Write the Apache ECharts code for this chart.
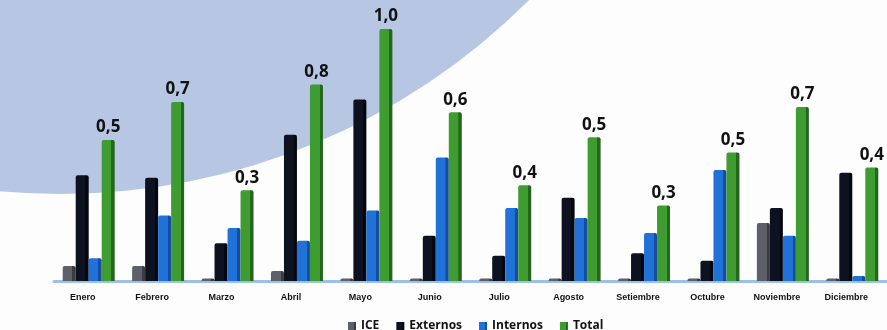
<!DOCTYPE html>
<html>
<head>
<meta charset="utf-8">
<script src="https://cdn.jsdelivr.net/npm/echarts@6/dist/echarts.min.js"></script>
<style>
  html, body { margin: 0; padding: 0; background: #fdfdfe; }
  #chart { width: 887px; height: 330px; }
</style>
</head>
<body>
<div id="chart"></div>
<script>
const months = ['Enero', 'Febrero', 'Marzo', 'Abril', 'Mayo', 'Junio', 'Julio', 'Agosto', 'Setiembre', 'Octubre', 'Noviembre', 'Diciembre']
const ice = [0.06, 0.06, 0.01, 0.04, 0.01, 0.01, 0.01, 0.01, 0.01, 0.01, 0.23, 0.01]
const externos = [0.42, 0.41, 0.15, 0.58, 0.72, 0.18, 0.10, 0.33, 0.11, 0.08, 0.29, 0.43]
const internos = [0.09, 0.26, 0.21, 0.16, 0.28, 0.49, 0.29, 0.25, 0.19, 0.44, 0.18, 0.02]
const total = [0.56, 0.71, 0.36, 0.78, 1.0, 0.67, 0.38, 0.57, 0.30, 0.51, 0.69, 0.45]
const totalLabels = ['0,5', '0,7', '0,3', '0,8', '1,0', '0,6', '0,4', '0,5', '0,3', '0,5', '0,7', '0,4']

const chart = echarts.init(document.getElementById('chart'))

// flat colour with a darker right side, to fake the 3D look
const shade = (main, dark) => new echarts.graphic.LinearGradient(0, 0, 1, 0, [
  { offset: 0, color: main },
  { offset: 0.74, color: main },
  { offset: 0.75, color: dark },
  { offset: 1, color: dark }
])

const barSeries = (name, data, main, dark) => ({
  name: name,
  type: 'bar',
  data: data,
  barWidth: 13,
  barGap: '0%',
  itemStyle: { color: shade(main, dark), borderRadius: [2, 2, 0, 0] }
})

const option = {
  animation: false,
  backgroundColor: '#fdfdfe',
  graphic: [
    {
      type: 'circle',
      z: -10,
      silent: true,
      shape: { cx: 61, cy: -468, r: 662 },
      style: { fill: '#b7c6e3' }
    }
  ],
  legend: {
    top: 315,
    left: 343,
    itemWidth: 8,
    itemHeight: 8,
    itemGap: 17,
    icon: 'rect',
    textStyle: { fontFamily: 'Open Sans', fontWeight: 'bold', fontSize: 12, color: '#111' },
    data: ['ICE', 'Externos', 'Internos', 'Total']
  },
  grid: { left: 54, width: 841, top: 29, bottom: 49 },
  xAxis: {
    type: 'category',
    data: months,
    axisTick: { show: false },
    axisLine: { lineStyle: { color: '#9dc0ea', width: 3 } },
    axisLabel: {
      interval: 0,
      margin: 12,
      padding: [0, 12, 0, 0],
      fontFamily: 'Liberation Sans',
      fontWeight: 'bold',
      fontSize: 9,
      color: '#111'
    }
  },
  yAxis: {
    type: 'value',
    min: 0,
    max: 1.0,
    show: false
  },
  series: [
    barSeries('ICE', ice, '#5d6068', '#3a3c42'),
    barSeries('Externos', externos, '#0d1120', '#05070e'),
    barSeries('Internos', internos, '#2172d8', '#154ea0'),
    Object.assign(barSeries('Total', total, '#3f9c30', '#24661b'), {
      label: {
        show: true,
        position: 'top',
        distance: 4,
        formatter: p => totalLabels[p.dataIndex],
        fontFamily: 'Open Sans',
        fontWeight: 'bold',
        fontSize: 17,
        color: '#111'
      }
    })
  ]
}

chart.setOption(option)
</script>
</body>
</html>
